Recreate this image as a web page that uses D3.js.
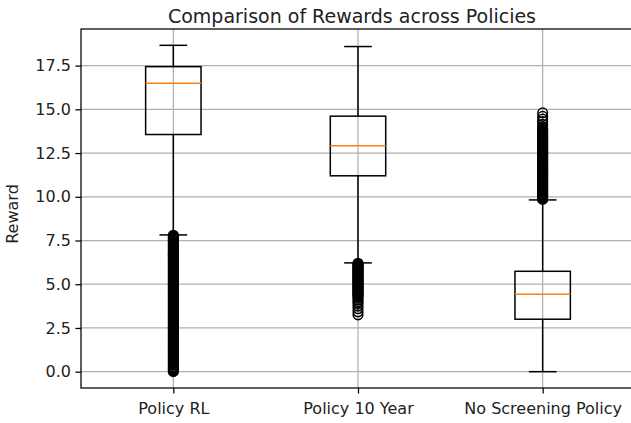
<!DOCTYPE html>
<html>
<head>
<meta charset="utf-8">
<script src="https://cdn.jsdelivr.net/npm/d3@7"></script>
<style>
  html, body { margin: 0; padding: 0; background: #fff; }
  svg { display: block; font-family: "DejaVu Sans", sans-serif; }
</style>
</head>
<body>
<div id="chart"></div>
<script>
// box statistics
const categories = ["Policy RL", "Policy 10 Year", "No Screening Policy"];
const whiskerLow = [7.82, 6.22, 0.0];
const q1 = [13.56, 11.20, 3.00];
const medians = [16.49, 12.92, 4.43];
const q3 = [17.44, 14.61, 5.74];
const whiskerHigh = [18.66, 18.59, 9.82];
const yTicks = [0, 2.5, 5, 7.5, 10, 12.5, 15, 17.5];

// outliers (the dense black bands)
const outliersRL = [0, 0.05, 0.1, 0.15, 0.2, 0.25, 0.3, 0.38, 0.45, 0.5, 0.55, 0.6, 0.65,
  0.7, 0.75, 0.8, 0.85, 0.9, 0.95, 1, 1.05, 1.1, 1.15, 1.2, 1.25, 1.3, 1.35,
  1.4, 1.45, 1.5, 1.55, 1.6, 1.65, 1.7, 1.75, 1.8, 1.85, 1.9, 1.95, 2, 2.05, 2.1, 2.15, 2.2, 2.25,
  2.3, 2.35, 2.4, 2.45, 2.5, 2.55, 2.6, 2.65, 2.7, 2.75, 2.8, 2.85, 2.9, 2.95, 3, 3.05, 3.1, 3.15,
  3.2, 3.25, 3.3, 3.35, 3.4, 3.45, 3.5, 3.55, 3.6, 3.65, 3.7, 3.75, 3.8, 3.85, 3.9, 3.95, 4, 4.05,
  4.1, 4.15, 4.2, 4.25, 4.3, 4.35, 4.4, 4.45, 4.5, 4.55, 4.6, 4.65, 4.7, 4.75, 4.8, 4.85, 4.9, 4.95,
  5, 5.05, 5.1, 5.15, 5.2, 5.25, 5.3, 5.35, 5.4, 5.45, 5.5, 5.55, 5.6, 5.65, 5.7, 5.75, 5.8, 5.85,
  5.9, 5.95, 6, 6.05, 6.1, 6.15, 6.2, 6.25, 6.3, 6.35, 6.4, 6.45, 6.5, 6.55, 6.6, 6.65, 6.7, 6.75,
  6.8, 6.85, 6.9, 6.95, 7, 7.05, 7.1, 7.15, 7.2, 7.25, 7.3, 7.35, 7.4, 7.45, 7.5, 7.55, 7.6, 7.65,
  7.7, 7.75, 7.8];
const outliers10Year = [3.25, 3.42, 3.6, 3.75, 3.9, 4.0, 4.1, 4.2, 4.3, 4.35, 4.4, 4.45, 4.5, 4.55,
  4.6, 4.65, 4.7, 4.75, 4.8, 4.85, 4.9, 4.95, 5, 5.05, 5.1, 5.15, 5.2, 5.25, 5.3, 5.35, 5.4, 5.45,
  5.5, 5.55, 5.6, 5.65, 5.7, 5.75, 5.8, 5.85, 5.9, 5.95, 6, 6.05, 6.1, 6.15, 6.2];
const outliersNoScreen = [9.85, 9.9, 9.95, 10, 10.05, 10.1, 10.15, 10.2, 10.25, 10.3, 10.35, 10.4,
  10.45, 10.5, 10.55, 10.6, 10.65, 10.7, 10.75, 10.8, 10.85, 10.9, 10.95, 11, 11.05, 11.1, 11.15,
  11.2, 11.25, 11.3, 11.35, 11.4, 11.45, 11.5, 11.55, 11.6, 11.65, 11.7, 11.75, 11.8, 11.85, 11.9,
  11.95, 12, 12.05, 12.1, 12.15, 12.2, 12.25, 12.3, 12.35, 12.4, 12.45, 12.5, 12.55, 12.6, 12.65,
  12.7, 12.75, 12.8, 12.85, 12.9, 12.95, 13, 13.05, 13.1, 13.15, 13.2, 13.25, 13.3, 13.35, 13.4,
  13.45, 13.5, 13.55, 13.6, 13.65, 13.7, 13.75, 13.8, 13.85, 13.9, 14.0, 14.15, 14.3, 14.45, 14.6, 14.8];
const outliers = [outliersRL, outliers10Year, outliersNoScreen];

const W = 631, H = 423;
const plot = { left: 81, right: 635, top: 29, bottom: 388 };

const svg = d3.select("#chart").append("svg")
    .attr("width", W)
    .attr("height", H);

const x = d3.scaleLinear().domain([0.5, 3.5]).range([plot.left, plot.right]);
const y = d3.scaleLinear().domain([-0.933, 19.593]).range([plot.bottom, plot.top]);

const dataset = categories.map((c, i) => ({
    name: c, pos: i + 1,
    lo: whiskerLow[i], q1: q1[i], med: medians[i], q3: q3[i], hi: whiskerHigh[i],
    fliers: outliers[i]
}));

const boxW = 0.3;
const lw = 1.5;
const textColor = "#222";

// grid
svg.append("g")
    .selectAll("line")
    .data(yTicks)
    .enter().append("line")
    .attr("x1", plot.left).attr("x2", plot.right)
    .attr("y1", d => y(d)).attr("y2", d => y(d))
    .attr("stroke", "#b0b0b0").attr("stroke-width", 1.25);
svg.append("g")
    .selectAll("line")
    .data(dataset)
    .enter().append("line")
    .attr("x1", d => x(d.pos)).attr("x2", d => x(d.pos))
    .attr("y1", plot.top).attr("y2", plot.bottom)
    .attr("stroke", "#b0b0b0").attr("stroke-width", 1.25);

// boxes
const g = svg.append("g").selectAll("g")
    .data(dataset)
    .enter().append("g");

g.append("line")
    .attr("x1", d => x(d.pos)).attr("x2", d => x(d.pos))
    .attr("y1", d => y(d.q3)).attr("y2", d => y(d.hi))
    .attr("stroke", "#000").attr("stroke-width", lw);
g.append("line")
    .attr("x1", d => x(d.pos)).attr("x2", d => x(d.pos))
    .attr("y1", d => y(d.q1)).attr("y2", d => y(d.lo))
    .attr("stroke", "#000").attr("stroke-width", lw);
g.append("line")
    .attr("x1", d => x(d.pos - boxW / 4)).attr("x2", d => x(d.pos + boxW / 4))
    .attr("y1", d => y(d.hi)).attr("y2", d => y(d.hi))
    .attr("stroke", "#000").attr("stroke-width", lw);
g.append("line")
    .attr("x1", d => x(d.pos - boxW / 4)).attr("x2", d => x(d.pos + boxW / 4))
    .attr("y1", d => y(d.lo)).attr("y2", d => y(d.lo))
    .attr("stroke", "#000").attr("stroke-width", lw);
g.append("rect")
    .attr("x", d => x(d.pos - boxW / 2))
    .attr("width", d => x(d.pos + boxW / 2) - x(d.pos - boxW / 2))
    .attr("y", d => y(d.q3))
    .attr("height", d => y(d.q1) - y(d.q3))
    .attr("fill", "none").attr("stroke", "#000").attr("stroke-width", lw);
g.append("line")
    .attr("x1", d => x(d.pos - boxW / 2)).attr("x2", d => x(d.pos + boxW / 2))
    .attr("y1", d => y(d.med)).attr("y2", d => y(d.med))
    .attr("stroke", "#ff7f0e").attr("stroke-width", lw);

g.selectAll("circle")
    .data(d => d.fliers.map(v => ({ pos: d.pos, v })))
    .enter().append("circle")
    .attr("cx", d => x(d.pos))
    .attr("cy", d => y(d.v))
    .attr("r", 4.8)
    .attr("fill", "none").attr("stroke", "#000").attr("stroke-width", lw);

// axes
const yAxis = svg.append("g")
    .attr("transform", `translate(${plot.left},0)`)
    .call(d3.axisLeft(y).tickValues(yTicks).tickFormat(d3.format(".1f")).tickSize(5.6).tickPadding(4.5));
const xAxis = svg.append("g")
    .attr("transform", `translate(0,${plot.bottom})`)
    .call(d3.axisBottom(x).tickValues(dataset.map(d => d.pos)).tickFormat((d, i) => categories[i]).tickSize(5.6).tickPadding(9.5));
[yAxis, xAxis].forEach(a => {
    a.select(".domain").remove();
    a.selectAll(".tick line").attr("stroke", "#000").attr("stroke-width", 1.25);
    a.selectAll(".tick text").style("font-size", "16px").style("font-family", "DejaVu Sans").attr("fill", textColor);
});

// spines
svg.append("rect")
    .attr("x", plot.left).attr("y", plot.top)
    .attr("width", plot.right - plot.left).attr("height", plot.bottom - plot.top)
    .attr("fill", "none").attr("stroke", "#000").attr("stroke-width", 1.25);

svg.append("text")
    .attr("x", 352)
    .attr("y", 23)
    .attr("text-anchor", "middle")
    .style("font-size", "19px")
    .attr("fill", textColor)
    .text("Comparison of Rewards across Policies");

svg.append("text")
    .attr("transform", "translate(18,214) rotate(-90)")
    .attr("text-anchor", "middle")
    .style("font-size", "16px")
    .attr("fill", textColor)
    .text("Reward");
</script>
</body>
</html>
